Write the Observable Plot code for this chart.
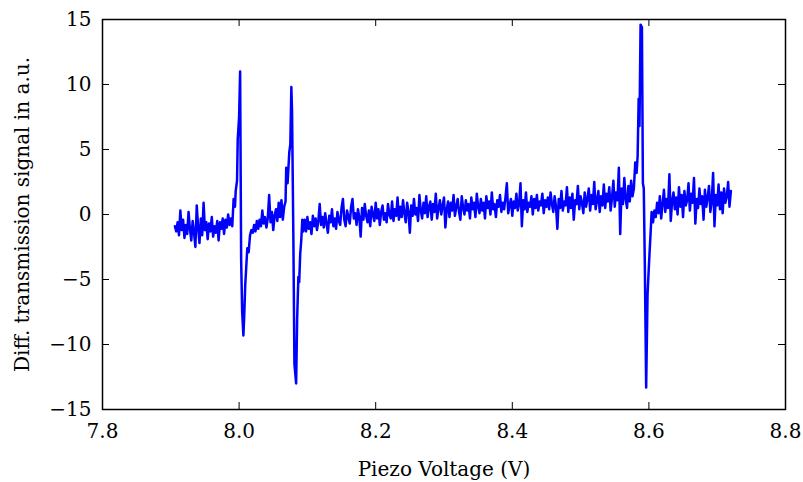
<!DOCTYPE html>
<html><head><meta charset="utf-8">
<script src="https://cdn.jsdelivr.net/npm/d3@7"></script>
<script src="https://cdn.jsdelivr.net/npm/@observablehq/plot@0.6"></script>
<style>body{margin:0;background:#fff}</style>
</head><body><div id="chart"></div>
<script>
// Tick values
const xTicks = [7.8, 8.0, 8.2, 8.4, 8.6, 8.8];
const yTicks = [-15, -10, -5, 0, 5, 10, 15];

// Sampling step of the noisy baseline segments (V)
const stepV = 0.002;

// Baseline segment A: 7.906 V ..
const segAStart = 7.906;
const segA = [-0.9,-1.3,-0.6,-1.6,0.3,-1.2,-0.4,-1.8,-0.8,-1.5,0.2,-1.1,-2.0,-0.5,-1.4,-2.5,0.7,-1.0,-2.2,-0.3,
  -1.6,0.9,-1.2,-0.6,-1.9,-0.7,-1.3,-0.2,-1.7,-0.9,-1.4,-0.5,-2.0,-0.6,-1.1,-0.3,-1.5,-0.4,-1.0,0.0,-0.8,-0.3,-0.9];

// Resonance 1
const peak1X = [7.992,7.994,7.995,7.997,7.998,8.000,8.0015,8.003,8.0045,8.0063,8.0075,8.009,8.0105,8.012,8.014,8.016,8.018];
const peak1Y = [1.2,0.6,1.8,2.6,5.8,7.5,11.0,-3.5,-7.5,-9.3,-7.8,-5.4,-4.0,-2.6,-2.9,-1.6,-1.2];

// Baseline segment B
const segBStart = 8.020;
const segB = [-1.4,-0.8,-1.3,-0.5,-1.1,-0.4,-0.9,0.3,-0.7,-0.2,-1.0,-0.3,1.5,-0.6,0.2,-1.2,-0.1,0.4,-0.5,0.9,-0.2,1.1,-0.4,0.6];

// Resonance 2
const peak2X = [8.068,8.069,8.071,8.0735,8.075,8.0765,8.0775,8.0795,8.081,8.0835,8.085,8.0868,8.088,8.0895,8.091,8.0925,8.094];
const peak2Y = [1.0,3.6,2.4,4.8,5.4,9.8,8.0,-2.0,-11.5,-13.0,-8.0,-4.8,-5.2,-3.0,-2.0,-0.4,-1.3];

// Baseline segment C
const segCStart = 8.096;
const segC = [
  -0.4,-1.3,-0.2,-1.1,-0.6,-1.5,-0.1,-0.9,-0.3,-1.2,
  -0.5,0.8,-0.8,-0.2,-1.0,0.1,-0.7,-1.4,-0.1,-0.6,
  0.4,-0.9,-0.3,-1.1,0.2,-0.5,-0.8,0.5,1.2,-0.4,
  -0.9,0.3,-0.2,-0.7,0.6,1.2,-0.3,0.1,-0.8,0.4,
  -0.2,-1.7,0.5,-0.4,0.8,-0.1,-0.6,0.3,-0.9,0.6,
  0.0,-0.5,0.9,-0.3,0.4,-0.8,0.2,0.7,-0.4,0.1,
  -0.6,0.8,0.0,-0.3,1.0,-0.5,0.4,-0.1,1.3,-0.4,
  0.6,-0.2,1.1,0.1,-0.6,0.9,0.2,-1.4,0.7,-0.1,
  1.2,0.0,0.5,-0.5,1.5,0.3,-0.3,0.9,0.1,1.4,
  -0.2,0.6,1.0,-0.4,0.8,0.2,1.6,-0.3,0.5,1.1,
  0.0,0.7,1.3,-1.0,0.4,1.0,-0.2,0.9,0.3,1.5,
  -0.1,0.6,1.2,0.2,-0.4,1.4,0.5,0.0,1.1,0.3,
  0.8,-0.3,1.3,0.4,0.9,-0.2,1.6,0.6,0.1,1.2,
  0.3,0.9,-0.3,1.4,0.5,1.0,0.0,1.7,0.4,0.8,
  -0.2,1.1,0.6,1.5,0.2,0.9,0.4,1.3,2.4,0.1,
  0.7,1.2,-0.1,1.0,0.5,1.6,0.3,0.8,2.4,-0.9,
  1.1,0.4,1.7,0.2,0.9,0.6,1.4,0.0,1.2,0.5,
  1.5,0.3,1.0,0.7,1.6,0.1,1.1,0.6,1.3,0.4,
  1.7,0.8,0.2,1.4,0.6,-1.1,1.2,0.5,1.8,0.3,
  1.0,0.7,2.1,0.2,1.3,0.5,1.6,-0.4,1.1,0.8,
  2.2,0.4,1.4,0.9,0.1,1.7,0.6,1.2,2.0,0.3,
  1.5,0.8,2.5,0.4,1.1,1.8,0.2,1.4,0.7,2.3,
  0.5,1.6,1.0,2.1,0.3,1.3,2.6,0.6,1.7,1.1,
  3.6,-1.5,2.0,0.8,2.8,1.2,0.5,2.2,1.0,2.6,1.4];

// Resonance 3
const peak3X = [8.578,8.580,8.582,8.5835,8.585,8.5862,8.5878,8.5898,8.5912,8.5925,8.594,8.596,8.598,8.5995,8.601,8.6025,8.604,8.606];
const peak3Y = [2.0,4.0,3.2,4.5,8.9,6.8,14.6,14.4,2.4,2.0,-3.7,-13.3,-6.2,-4.5,-2.9,-1.4,0.2,-0.6];

// Baseline segment D
const segDStart = 8.608;
const segD = [
  0.3,-0.2,0.9,0.1,1.4,-0.3,0.8,1.9,0.2,1.2,
  0.5,3.1,-0.5,1.0,1.7,0.4,1.3,0.0,2.1,0.6,
  1.5,-0.2,1.8,0.7,1.1,2.4,0.3,1.6,0.9,2.8,
  -0.7,1.2,0.5,2.0,0.8,1.4,-0.4,1.9,0.6,1.3,
  2.2,0.2,1.0,3.2,-0.9,1.5,0.7,2.3,0.4,1.7,
  0.1,2.0,0.9,1.4,2.5,0.6,1.8];

const seg = (start, ys) => ys.map((y, i) => ({x: start + i * stepV, y}));
const pairs = (xs, ys) => xs.map((x, i) => ({x, y: ys[i]}));
const data = [
  ...seg(segAStart, segA), ...pairs(peak1X, peak1Y),
  ...seg(segBStart, segB), ...pairs(peak2X, peak2Y),
  ...seg(segCStart, segC), ...pairs(peak3X, peak3Y),
  ...seg(segDStart, segD)
];

const W = 803, H = 482, mL = 102, mR = 18, mT = 19, mB = 73;
const innerW = W - mL - mR, innerH = H - mT - mB, tl = 7;

const chart = Plot.plot({
  width: W, height: H,
  marginLeft: mL, marginRight: mR, marginTop: mT, marginBottom: mB,
  style: {fontFamily: "'DejaVu Serif', serif", fontSize: "20px", color: "black", background: "white"},
  x: {domain: [7.8, 8.8]},
  y: {domain: [-15, 15]},
  marks: [
    Plot.line(data, {x: "x", y: "y", stroke: "#0000ff", strokeWidth: 2.5, strokeLinejoin: "round"}),
    Plot.tickX(xTicks, {x: d => d, insetTop: innerH - tl, stroke: "black"}),
    Plot.tickX(xTicks, {x: d => d, insetBottom: innerH - tl, stroke: "black"}),
    Plot.tickY(yTicks, {y: d => d, insetRight: innerW - tl, stroke: "black"}),
    Plot.tickY(yTicks, {y: d => d, insetLeft: innerW - tl, stroke: "black"}),
    Plot.axisX(xTicks, {tickSize: 0, tickPadding: 14, tickFormat: d3.format(".1f"),
      label: "Piezo Voltage (V)", labelAnchor: "center", labelOffset: 66, labelArrow: "none"}),
    Plot.axisY(yTicks, {tickSize: 0, tickPadding: 11,
      label: "Diff. transmission signal in a.u.", labelAnchor: "center", labelOffset: 88, labelArrow: "none"}),
    Plot.frame({stroke: "black", strokeWidth: 1.5})
  ]
});
document.getElementById("chart").appendChild(chart);
</script>
</body></html>
